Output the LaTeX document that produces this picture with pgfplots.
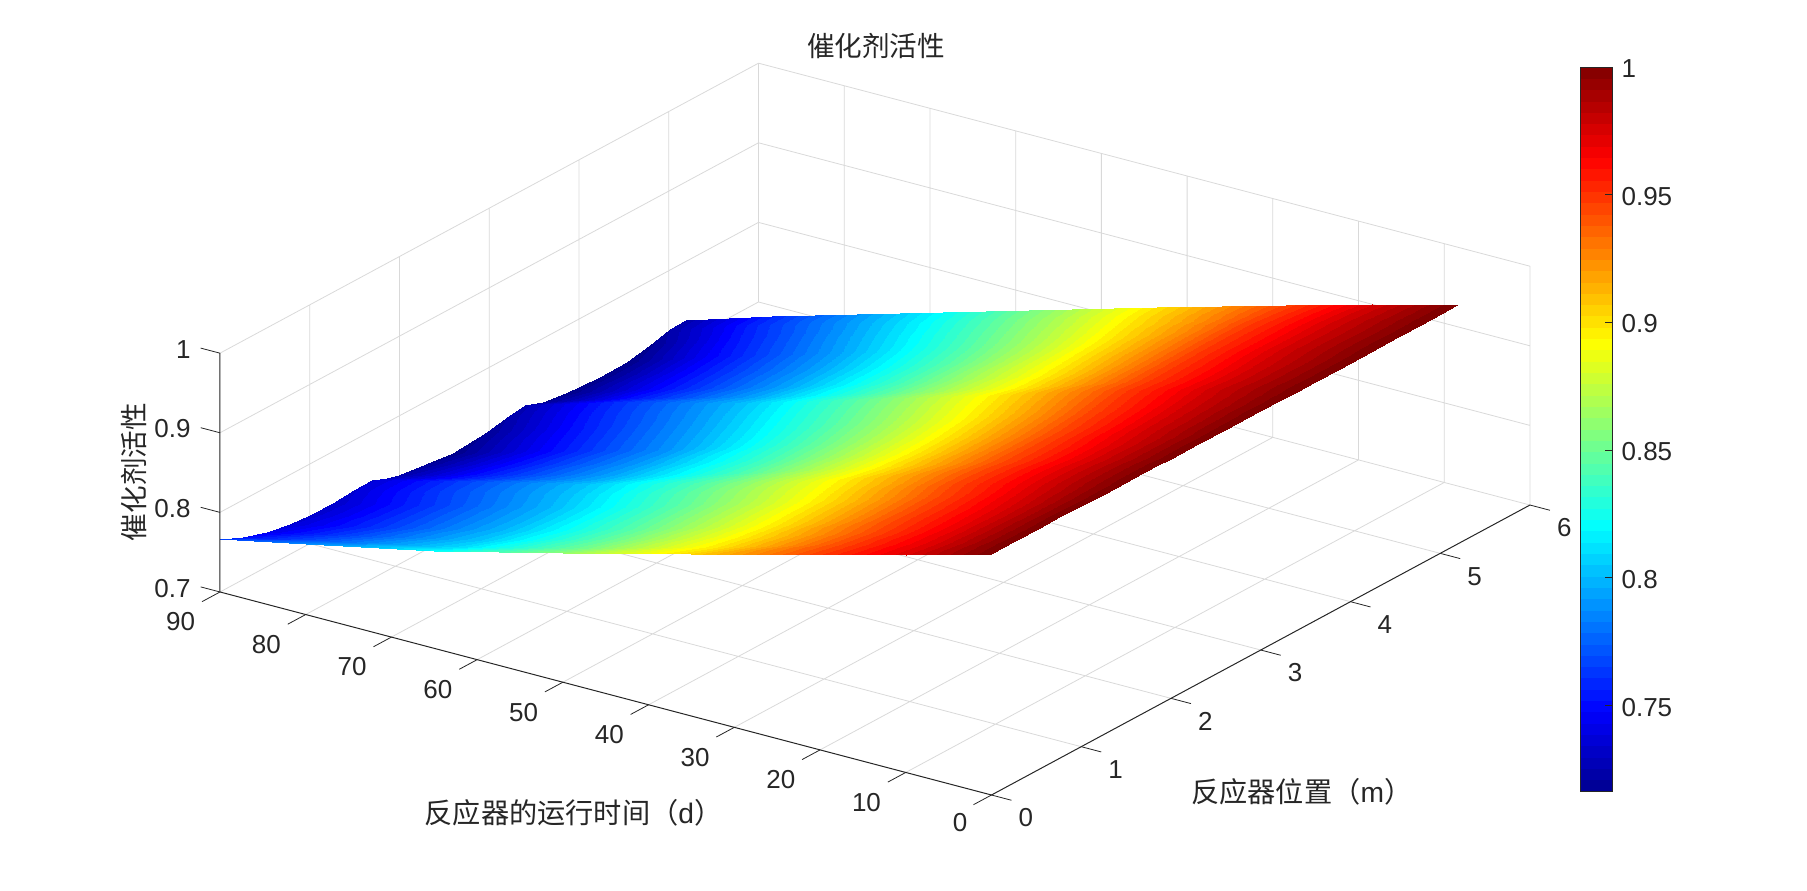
\documentclass[border=0pt]{standalone}
\usepackage{fontspec}
\usepackage{pgfplots}
\pgfplotsset{compat=1.18}
\setmainfont{Liberation Sans}
\newfontfamily\cjk{Noto Sans CJK SC}
\definecolor{txt}{gray}{0.15}
\colorlet{gridc}{black!15}
\pgfplotsset{
  colormap={mjet}{rgb(0pt)=(0,0,.5625); rgb(7pt)=(0,0,1); rgb(23pt)=(0,1,1); rgb(39pt)=(1,1,0); rgb(55pt)=(1,0,0); rgb(63pt)=(.5,0,0)},
  colormap={mjet64}{samples of colormap={64 of mjet}},
}
\begin{document}
\begin{tikzpicture}
\useasboundingbox (0,0) rectangle (903.5pt,445pt);
\begin{axis}[
  at={(110pt,47.5pt)}, anchor=south west,
  x={(-4.286pt,1.128pt)}, y={(44.875pt,24.165pt)}, z={(0pt,398pt)},
  xmin=0,xmax=90,ymin=0,ymax=6,zmin=0.7,zmax=1,
  clip=false,
  axis line style={draw=none},
  tick align=outside, major tick length=10.5pt,
  tick style={draw=none},
  xtick={0,10,...,90}, ytick={0,1,...,6}, ztick={0.7,0.8,0.9,1},
  xticklabels={\kern8pt\raisebox{2.3pt}{0},10,20,30,40,50,60,70,80,90},
  yticklabels={0,1,2,3,4,5,6},
  zticklabels={0.7,0.8,0.9,1},
  ticklabel style={font=\fontsize{13}{13}\selectfont,text=txt},
  xticklabel style={anchor=center,xshift=-10.4pt,yshift=-9.95pt},
  yticklabel style={anchor=center,xshift=7pt,yshift=-8.8pt},
  zticklabel style={anchor=east,xshift=-1.9pt,yshift=6.9pt},
  colormap name=mjet64,
  colormap access=piecewise constant,
  point meta min=0.7165, point meta max=1,
  unbounded coords=jump,
]
% grid on the floor and the two back walls
\addplot3[forget plot,gridc,line width=.4pt,no marks] coordinates {
(10,0,.7)(10,6,.7)(nan,nan,nan)(20,0,.7)(20,6,.7)(nan,nan,nan)(30,0,.7)(30,6,.7)(nan,nan,nan)(40,0,.7)(40,6,.7)(nan,nan,nan)(50,0,.7)(50,6,.7)(nan,nan,nan)(60,0,.7)(60,6,.7)(nan,nan,nan)(70,0,.7)(70,6,.7)(nan,nan,nan)(80,0,.7)(80,6,.7)(nan,nan,nan)(90,0,.7)(90,6,.7)(nan,nan,nan)
(0,1,.7)(90,1,.7)(nan,nan,nan)(0,2,.7)(90,2,.7)(nan,nan,nan)(0,3,.7)(90,3,.7)(nan,nan,nan)(0,4,.7)(90,4,.7)(nan,nan,nan)(0,5,.7)(90,5,.7)(nan,nan,nan)(0,6,.7)(90,6,.7)(nan,nan,nan)
(90,1,.7)(90,1,1)(nan,nan,nan)(90,2,.7)(90,2,1)(nan,nan,nan)(90,3,.7)(90,3,1)(nan,nan,nan)(90,4,.7)(90,4,1)(nan,nan,nan)(90,5,.7)(90,5,1)(nan,nan,nan)(90,6,.7)(90,6,1)(nan,nan,nan)
(90,0,.8)(90,6,.8)(nan,nan,nan)(90,0,.9)(90,6,.9)(nan,nan,nan)(90,0,1)(90,6,1)(nan,nan,nan)
(0,6,.7)(0,6,1)(nan,nan,nan)(10,6,.7)(10,6,1)(nan,nan,nan)(20,6,.7)(20,6,1)(nan,nan,nan)(30,6,.7)(30,6,1)(nan,nan,nan)(40,6,.7)(40,6,1)(nan,nan,nan)(50,6,.7)(50,6,1)(nan,nan,nan)(60,6,.7)(60,6,1)(nan,nan,nan)(70,6,.7)(70,6,1)(nan,nan,nan)(80,6,.7)(80,6,1)(nan,nan,nan)
(0,6,.8)(90,6,.8)(nan,nan,nan)(0,6,.9)(90,6,.9)(nan,nan,nan)(0,6,1)(90,6,1)
};
\addplot3[surf,shader=interp,mesh/ordering=x varies,mesh/rows=8,mesh/cols=22,point meta=z,forget plot] table[row sep=\\]{
x y z\\
0 0 1.003\\0 .26 1.003\\0 .52 1.003\\0 .78 1.003\\0 1 1.002\\0 1.26 1.002\\0 1.49 1.002\\0 1.69 1.002\\0 1.86 1.002\\0 2 1.001\\0 2.3 1.001\\0 2.6 1.001\\0 2.97 1.001\\0 3.23 1\\0 3.4 1\\0 3.6 1\\0 3.86 1\\0 4.23 1\\0 4.53 1\\0 4.79 1\\0 5.01 1\\0 5.19 1\\
10 0 .973\\10 .26 .971\\10 .52 .970\\10 .78 .970\\10 1 .970\\10 1.26 .971\\10 1.49 .972\\10 1.69 .972\\10 1.86 .972\\10 2 .971\\10 2.3 .971\\10 2.6 .972\\10 2.97 .973\\10 3.23 .974\\10 3.4 .975\\10 3.6 .974\\10 3.86 .974\\10 4.23 .975\\10 4.53 .975\\10 4.79 .975\\10 5.01 .974\\10 5.19 .973\\
20 0 .946\\20 .26 .943\\20 .52 .941\\20 .78 .941\\20 1 .941\\20 1.26 .941\\20 1.49 .943\\20 1.69 .943\\20 1.86 .942\\20 2 .941\\20 2.3 .941\\20 2.6 .941\\20 2.97 .943\\20 3.23 .945\\20 3.4 .946\\20 3.6 .945\\20 3.86 .945\\20 4.23 .946\\20 4.53 .946\\20 4.79 .946\\20 5.01 .945\\20 5.19 .944\\
35 0 .903\\35 .26 .897\\35 .52 .894\\35 .78 .892\\35 1 .892\\35 1.26 .892\\35 1.49 .894\\35 1.69 .895\\35 1.86 .893\\35 2 .891\\35 2.3 .890\\35 2.6 .890\\35 2.97 .892\\35 3.23 .895\\35 3.4 .897\\35 3.6 .894\\35 3.86 .893\\35 4.23 .894\\35 4.53 .895\\35 4.79 .897\\35 5.01 .899\\35 5.19 .899\\
50 0 .862\\50 .26 .853\\50 .52 .848\\50 .78 .845\\50 1 .845\\50 1.26 .845\\50 1.49 .848\\50 1.69 .848\\50 1.86 .845\\50 2 .842\\50 2.3 .840\\50 2.6 .840\\50 2.97 .843\\50 3.23 .847\\50 3.4 .849\\50 3.6 .845\\50 3.86 .843\\50 4.23 .843\\50 4.53 .845\\50 4.79 .849\\50 5.01 .852\\50 5.19 .853\\
65 0 .822\\65 .26 .811\\65 .52 .805\\65 .78 .801\\65 1 .800\\65 1.26 .800\\65 1.49 .803\\65 1.69 .804\\65 1.86 .799\\65 2 .796\\65 2.3 .793\\65 2.6 .791\\65 2.97 .796\\65 3.23 .800\\65 3.4 .802\\65 3.6 .797\\65 3.86 .794\\65 4.23 .794\\65 4.53 .796\\65 4.79 .801\\65 5.01 .805\\65 5.19 .806\\
80 0 .788\\80 .26 .776\\80 .52 .768\\80 .78 .763\\80 1 .762\\80 1.26 .761\\80 1.49 .765\\80 1.69 .765\\80 1.86 .759\\80 2 .755\\80 2.3 .751\\80 2.6 .748\\80 2.97 .753\\80 3.23 .758\\80 3.4 .760\\80 3.6 .753\\80 3.86 .749\\80 4.23 .749\\80 4.53 .750\\80 4.79 .755\\80 5.01 .760\\80 5.19 .760\\
90 0 .7662\\90 .26 .7529\\90 .52 .7442\\90 .78 .7381\\90 1 .7358\\90 1.26 .7348\\90 1.49 .7379\\90 1.69 .7377\\90 1.86 .7308\\90 2 .726\\90 2.3 .7206\\90 2.6 .7171\\90 2.97 .721\\90 3.23 .7261\\90 3.4 .7283\\90 3.6 .7204\\90 3.86 .7151\\90 4.23 .7134\\90 4.53 .7142\\90 4.79 .7195\\90 5.01 .7256\\90 5.19 .7264\\
};
\addplot3[forget plot,txt,line width=.5pt,no marks] coordinates {(90,0,1) (90,0,0.7) (0,0,0.7) (0,6,0.7)};
% tick marks, along the other data axes as in the reference
\addplot3[forget plot,txt,line width=.4pt,no marks] coordinates {
(90,0,.7)(90,-.2,.7)(nan,nan,nan)(80,0,.7)(80,-.2,.7)(nan,nan,nan)(70,0,.7)(70,-.2,.7)(nan,nan,nan)(60,0,.7)(60,-.2,.7)(nan,nan,nan)(50,0,.7)(50,-.2,.7)(nan,nan,nan)
(40,0,.7)(40,-.2,.7)(nan,nan,nan)(30,0,.7)(30,-.2,.7)(nan,nan,nan)(20,0,.7)(20,-.2,.7)(nan,nan,nan)(10,0,.7)(10,-.2,.7)(nan,nan,nan)(0,0,.7)(0,-.2,.7)(nan,nan,nan)
(0,0,.7)(-2.33,0,.7)(nan,nan,nan)(0,1,.7)(-2.33,1,.7)(nan,nan,nan)(0,2,.7)(-2.33,2,.7)(nan,nan,nan)(0,3,.7)(-2.33,3,.7)(nan,nan,nan)(0,4,.7)(-2.33,4,.7)(nan,nan,nan)(0,5,.7)(-2.33,5,.7)(nan,nan,nan)(0,6,.7)(-2.33,6,.7)(nan,nan,nan)
(90,0,.7)(92.25,0,.7)(nan,nan,nan)(90,0,.8)(92.25,0,.8)(nan,nan,nan)(90,0,.9)(92.25,0,.9)(nan,nan,nan)(90,0,1)(92.25,0,1)
};
\end{axis}
\node[text=txt,font=\fontsize{13.8}{14}\selectfont\cjk] at (438pt,422pt) {催化剂活性};
\node[text=txt,font=\fontsize{13.8}{14}\selectfont\cjk,rotate=90] at (67pt,209pt) {催化剂活性};
\node[text=txt,font=\fontsize{14.1}{14}\selectfont\cjk] at (286.75pt,38.5pt) {反应器的运行时间（{\rmfamily d}）};
\node[text=txt,font=\fontsize{14.1}{14}\selectfont\cjk] at (650.9pt,49pt) {反应器位置（{\rmfamily m}）};
\pgfplotscolorbardrawstandalone[
  colormap name=mjet,
  colorbar sampled,
  point meta min=0.7165, point meta max=1,
  colorbar style={
    at={(781.5pt,49.5pt)}, anchor=south west,
    width=16.2pt, height=362pt, scale only axis,
    samples=65,
    ytick={0.75,0.8,0.85,0.9,0.95,1},
    yticklabels={0.75,0.8,0.85,0.9,0.95,1},
    ticklabel style={font=\fontsize{13}{13}\selectfont,text=txt},
    yticklabel style={xshift=1pt,yshift=-.8pt},
    tick style={txt,line width=.4pt},
    tick align=inside, ytick pos=right,
    major tick length=3.8pt,
    axis line style={txt,line width=.4pt},
  },
]
\end{tikzpicture}
\end{document}
